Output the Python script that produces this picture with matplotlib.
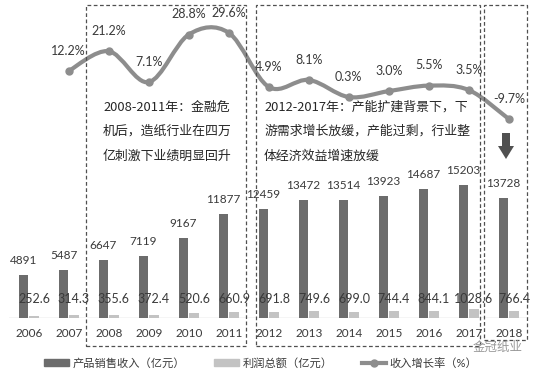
import numpy as np
import matplotlib
matplotlib.use('Agg')
import matplotlib.pyplot as plt
from matplotlib.path import Path
from matplotlib.patches import PathPatch, Rectangle, Polygon, Patch
from matplotlib.lines import Line2D

plt.rcParams['font.family'] = ['Lato', 'Noto Sans CJK SC', 'DejaVu Sans']

#------------------------------------------------------------------------
# data
#------------------------------------------------------------------------
years = ['2006', '2007', '2008', '2009', '2010', '2011', '2012',
         '2013', '2014', '2015', '2016', '2017', '2018']
revenue = [4891, 5487, 6647, 7119, 9167, 11877, 12459,
           13472, 13514, 13923, 14687, 15203, 13728]
profit = [252.6, 314.3, 355.6, 372.4, 520.6, 660.9, 691.8,
          749.6, 699.0, 744.4, 844.1, 1028.6, 766.4]
growth_years = years[1:]
growth = [12.2, 21.2, 7.1, 28.8, 29.6, 4.9, 8.1, 0.3, 3.0, 5.5, 3.5, -9.7]

note1 = ['2008-2011年：金融危', '机后，造纸行业在四万', '亿刺激下业绩明显回升']
note2 = ['2012-2017年：产能扩建背景下，下', '游需求增长放缓，产能过剩，行业整', '体经济效益增速放缓']
legend_labels = ['产品销售收入（亿元）', '利润总额（亿元）', '收入增长率（%）']

#------------------------------------------------------------------------
# style
#------------------------------------------------------------------------
W, H = 542, 373
darkBar = '#6c6c6c'
lightBar = '#c3c3c3'
lineCol = '#8d8d8d'
textCol = '#3a3a3a'
numFont = 8.5

def px(x, y):
    # pixel position (from top-left) -> figure fraction
    return x / W, 1 - y / H

fig = plt.figure(figsize=(W / 100, H / 100), dpi=100)
ax = fig.add_axes([8.75 / W, 55 / H, 520 / W, 308 / H])
ax2 = ax.twinx()

x = np.arange(len(years))
bw = 0.235
ax.bar(x - 0.13, revenue, bw, color=darkBar, zorder=2)
ax.bar(x + 0.13, profit, bw, color=lightBar, zorder=2)
ax.set_xlim(-0.5, len(years) - 0.5)
ax.set_ylim(0, 35200)
ax.axhline(0, color='#d0d0d0', lw=1, zorder=1)

for i, v in enumerate(revenue):
    ax.annotate(str(v), (x[i] - 0.13, v), xytext=(0, 8), textcoords='offset points',
                ha='center', va='baseline', fontsize=numFont, color=textCol, zorder=5)

trans = ax.get_xaxis_transform()
for i, v in enumerate(profit):
    ax.text(x[i] + 0.13, 0.063, '%.1f' % v, transform=trans, ha='center', va='center',
            fontsize=numFont + 0.5, color=textCol, zorder=5)

ax.set_xticks(x)
ax.set_xticklabels(years, fontsize=numFont, color=textCol)
ax.tick_params(axis='x', length=0, pad=7)
ax.set_yticks([])
for s in ax.spines.values():
    s.set_visible(False)

#------------------------------------------------------------------------
# growth line (smoothed through the points)
#------------------------------------------------------------------------
gx = np.array([years.index(y) for y in growth_years], dtype=float)
gy = np.array(growth, dtype=float)
pts = np.column_stack([gx, gy])
ext = np.vstack([pts[0], pts, pts[-1]])
verts = [pts[0]]
codes = [Path.MOVETO]
for i in range(len(pts) - 1):
    p0, p1, p2, p3 = ext[i], ext[i + 1], ext[i + 2], ext[i + 3]
    verts += [p1 + (p2 - p0) / 6, p2 - (p3 - p1) / 6, p2]
    codes += [Path.CURVE4] * 3
ax2.add_patch(PathPatch(Path(verts, codes), fill=False, ec=lineCol, lw=3, zorder=3,
                        capstyle='round', joinstyle='round'))
ax2.plot(gx, gy, 'o', color=lineCol, ms=5, zorder=4)
for xi, yi in zip(gx, gy):
    ax2.annotate('%.1f%%' % yi, (xi, yi), xytext=(0, 14.5), textcoords='offset points',
                 ha='center', va='center', fontsize=numFont + 0.5, color=textCol)
ax2.set_ylim(-100.5, 40)
ax2.set_yticks([])
for s in ax2.spines.values():
    s.set_visible(False)

#------------------------------------------------------------------------
# dashed boxes, notes, arrow
#------------------------------------------------------------------------
for (x0, y0, x1, y1) in [(86, 5, 246, 346), (256, 5, 480, 346), (484, 5, 527, 340)]:
    fx0, fy1 = px(x0, y0)
    fx1, fy0 = px(x1, y1)
    fig.add_artist(Rectangle((fx0, fy0), fx1 - fx0, fy1 - fy0, transform=fig.transFigure,
                             fill=False, ec='#505050', lw=0.9, ls=(0, (3, 2))))

noteFam = ['Liberation Sans Narrow', 'Noto Sans CJK SC', 'DejaVu Sans']
for lines, lx in [(note1, 103), (note2, 264)]:
    for k, t in enumerate(lines):
        fig.text(*px(lx, 107 + 24.5 * k), t, ha='left', va='center', fontsize=9.3,
                 family=noteFam, color='#262626')

arrow = [(502, 133), (510, 133), (510, 146), (514, 146), (506, 159), (498, 146), (502, 146)]
fig.add_artist(Polygon([px(a, b) for a, b in arrow], closed=True, transform=fig.transFigure,
                       fc='#505050', ec='none'))

# watermark
fig.text(*px(498, 347), '金冠纸业', ha='center', va='center', fontsize=9, color='#9a9a9a')

#------------------------------------------------------------------------
# legend
#------------------------------------------------------------------------
handles = [Patch(color=darkBar), Patch(color=lightBar),
           Line2D([], [], color=lineCol, lw=3, marker='o', ms=5)]
fig.legend(handles, legend_labels, loc='center', bbox_to_anchor=px(261, 363), ncol=3,
           frameon=False, fontsize=8.1, handlelength=2.2, handleheight=0.5,
           handletextpad=0.3, columnspacing=2.6, labelcolor=textCol)

fig.savefig('out.png', dpi=100)
